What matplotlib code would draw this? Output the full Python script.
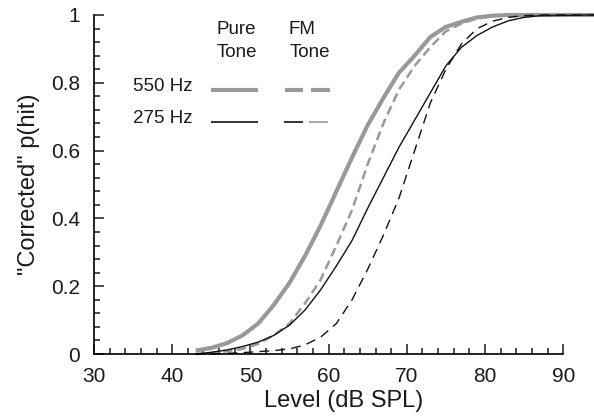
import numpy as np
import matplotlib
matplotlib.use('Agg')
import matplotlib.pyplot as plt
from matplotlib.ticker import MultipleLocator, FuncFormatter

plt.rcParams['font.family'] = ['Liberation Sans', 'DejaVu Sans']
plt.rcParams['lines.scale_dashes'] = False

# level (dB SPL) and "corrected" p(hit)
level = [43, 45, 47, 49, 51, 53, 55, 57, 59, 61, 63, 65, 67, 69, 71, 73, 75, 77, 79, 81, 83, 85, 87, 94]
pure_550 = [0.01, 0.018, 0.032, 0.055, 0.09, 0.145, 0.21, 0.29, 0.38, 0.48, 0.58, 0.675, 0.755, 0.83,
            0.88, 0.935, 0.965, 0.98, 0.993, 0.998, 1.0, 1.0, 1.0, 1.0]
fm_550 = [0.0, 0.003, 0.008, 0.015, 0.03, 0.055, 0.09, 0.15, 0.22, 0.32, 0.425, 0.56, 0.68, 0.78,
          0.85, 0.905, 0.952, 0.975, 0.99, 0.997, 1.0, 1.0, 1.0, 1.0]
pure_275 = [0.0, 0.005, 0.012, 0.022, 0.035, 0.055, 0.085, 0.13, 0.19, 0.26, 0.335, 0.43, 0.52, 0.61,
            0.69, 0.77, 0.85, 0.905, 0.94, 0.965, 0.983, 0.993, 0.998, 1.0]
fm_275 = [0.0, 0.0, 0.002, 0.004, 0.007, 0.01, 0.015, 0.027, 0.05, 0.09, 0.16, 0.25, 0.35, 0.46,
          0.6, 0.74, 0.84, 0.915, 0.96, 0.982, 0.993, 0.998, 1.0, 1.0]

gray = '#999999'
blk = '#111111'
txt = '#1a1a1a'

fig = plt.figure(figsize=(5.94, 4.19), dpi=100)
ax = fig.add_axes([94 / 594, 65 / 419, 500 / 594, 339 / 419])

ax.plot(level, pure_550, color=gray, lw=3, clip_on=False, solid_capstyle='butt', solid_joinstyle='round')
ax.plot(level, fm_550, color=gray, lw=1.8, dashes=(6.5, 3.5), clip_on=False)
ax.plot(level, pure_275, color=blk, lw=1.0, clip_on=False)
ax.plot(level, fm_275, color=blk, lw=1.0, dashes=(7, 4.5), clip_on=False)

ax.set_xlim(30, 30 + 500 / 7.82)
ax.set_ylim(0, 1)
for s in ['top', 'right']:
    ax.spines[s].set_visible(False)
ax.spines['bottom'].set_bounds(30, 90)
ax.spines['left'].set_bounds(0, 1)
ax.spines['bottom'].set_linewidth(1.2)
ax.spines['left'].set_linewidth(1.2)

ax.set_xticks(np.arange(30, 91, 10))
ax.set_xticks([t for t in np.arange(30, 91, 2) if t % 10 != 0], minor=True)
ax.set_yticks(np.arange(0, 1.01, 0.2))
ax.yaxis.set_minor_locator(MultipleLocator(0.04))
ax.xaxis.set_minor_formatter(FuncFormatter(lambda v, p: ''))
ax.yaxis.set_major_formatter(FuncFormatter(lambda v, p: '%g' % round(v, 2)))
ax.tick_params(which='both', direction='in', width=1.1, labelsize=15, colors=txt)
ax.tick_params(which='major', length=7)
ax.tick_params(which='minor', length=4)
ax.tick_params(axis='x', pad=9)
ax.tick_params(axis='y', pad=10)

ax.set_xlabel('Level (dB SPL)', fontsize=17, labelpad=3, color=txt)
ax.set_ylabel('"Corrected" p(hit)', fontsize=17, labelpad=8, color=txt)

# legend drawn by hand, as in the original
tkw = dict(transform=ax.transAxes, fontsize=13.5, color=txt, va='center', ha='left')
ax.text(0.246, 0.956, 'Pure', **tkw)
ax.text(0.246, 0.888, 'Tone', **tkw)
ax.text(0.388, 0.956, 'FM', **tkw)
ax.text(0.392, 0.888, 'Tone', **tkw)
ax.text(0.078, 0.79, '550 Hz', **tkw)
ax.text(0.078, 0.696, '275 Hz', **tkw)

lkw = dict(transform=ax.transAxes, clip_on=False, solid_capstyle='butt')
ax.plot([0.234, 0.328], [0.779, 0.779], color=gray, lw=3, **lkw)
ax.plot([0.382, 0.418], [0.779, 0.779], color=gray, lw=3, **lkw)
ax.plot([0.434, 0.472], [0.779, 0.779], color=gray, lw=3, **lkw)
ax.plot([0.234, 0.328], [0.684, 0.684], color=blk, lw=1.2, **lkw)
ax.plot([0.380, 0.418], [0.684, 0.684], color=blk, lw=1.2, **lkw)
ax.plot([0.430, 0.468], [0.684, 0.684], color=gray, lw=1.2, **lkw)

fig.savefig('out.png', dpi=100)
